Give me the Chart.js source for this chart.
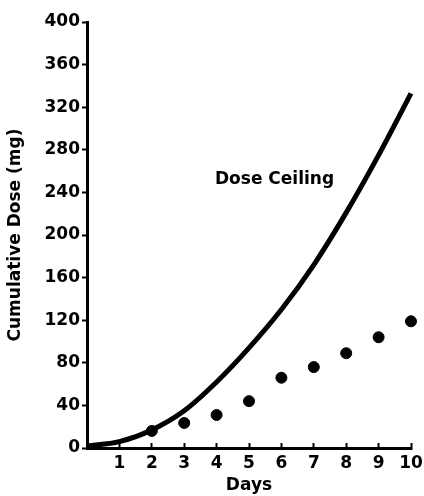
<!DOCTYPE html>
<html>
<head>
<meta charset="utf-8">
<script src="https://cdn.jsdelivr.net/npm/chart.js@4/dist/chart.umd.min.js"></script>
<style>
  html, body { margin: 0; padding: 0; background: #fff; }
  #wrap { width: 424px; height: 496px; }
</style>
</head>
<body>
<div id="wrap"><canvas id="chart"></canvas></div>
<script>
// dose ceiling curve
const ceilingDays = [0, 1, 2, 3, 4, 5, 6, 7, 8, 9, 10];
const ceilingDose = [2, 6, 17, 35, 62, 94, 130, 172, 221, 275, 333];

// cumulative dose actually given
const givenDays = [2, 3, 4, 5, 6, 7, 8, 9, 10];
const givenDose = [16, 23.5, 31, 44, 66, 76, 89, 104, 119];

const yTicks = [0, 40, 80, 120, 160, 200, 240, 280, 320, 360, 400];

const font = { family: 'DejaVu Sans', size: 17, weight: 'bold' };

// the "Dose Ceiling" caption sits in data space next to the curve
const captionPlugin = {
  id: 'caption',
  afterDatasetsDraw(chart) {
    const { ctx, scales } = chart;
    ctx.save();
    ctx.font = 'bold 17px "DejaVu Sans"';
    ctx.fillStyle = '#000';
    ctx.textAlign = 'left';
    ctx.textBaseline = 'middle';
    ctx.fillText('Dose Ceiling', scales.x.getPixelForValue(3.95), scales.y.getPixelForValue(252));
    ctx.restore();
  }
};

const ctx = document.getElementById('chart');

new Chart(ctx, {
  type: 'scatter',
  data: {
    datasets: [{
      label: 'Dose Ceiling',
      data: ceilingDays.map((d, i) => ({ x: d, y: ceilingDose[i] })),
      showLine: true,
      borderColor: '#000',
      borderWidth: 5,
      pointRadius: 0,
      cubicInterpolationMode: 'monotone',
      clip: false
    }, {
      label: 'Cumulative Dose',
      data: givenDays.map((d, i) => ({ x: d, y: givenDose[i] })),
      showLine: false,
      backgroundColor: '#000',
      borderColor: '#000',
      pointRadius: 5.5,
      clip: false
    }]
  },
  options: {
    responsive: true,
    maintainAspectRatio: false,
    animation: false,
    layout: { padding: { left: 0, right: 13, top: 22, bottom: 0 } },
    plugins: {
      legend: { display: false },
      tooltip: { enabled: false }
    },
    scales: {
      x: {
        type: 'linear',
        min: 0,
        max: 10,
        afterFit: s => {
          s.height = 48;
          s.paddingLeft = 0;
          s.paddingRight = 0;
        },
        grid: {
          drawOnChartArea: false,
          tickLength: -5,
          tickWidth: 2,
          tickColor: '#000'
        },
        border: { color: '#000', width: 3 },
        ticks: {
          stepSize: 1,
          padding: 10,
          color: '#000',
          font: font,
          maxRotation: 0,
          callback: v => v === 0 ? '' : v
        },
        title: {
          display: true,
          text: 'Days',
          color: '#000',
          font: font,
          padding: { top: 0, bottom: 0 }
        }
      },
      y: {
        min: 0,
        max: 400,
        afterFit: s => {
          s.width = 87;
          s.paddingTop = 0;
          s.paddingBottom = 0;
        },
        afterBuildTicks: s => { s.ticks = yTicks.map(v => ({ value: v })); },
        grid: {
          drawOnChartArea: false,
          tickLength: 5,
          tickWidth: 2,
          tickColor: '#000'
        },
        border: { color: '#000', width: 3 },
        ticks: {
          padding: 2,
          color: '#000',
          font: font
        },
        title: {
          display: true,
          text: 'Cumulative Dose (mg)',
          color: '#000',
          font: font,
          padding: { top: 5, bottom: 0 }
        }
      }
    }
  },
  plugins: [captionPlugin]
});
</script>
</body>
</html>
